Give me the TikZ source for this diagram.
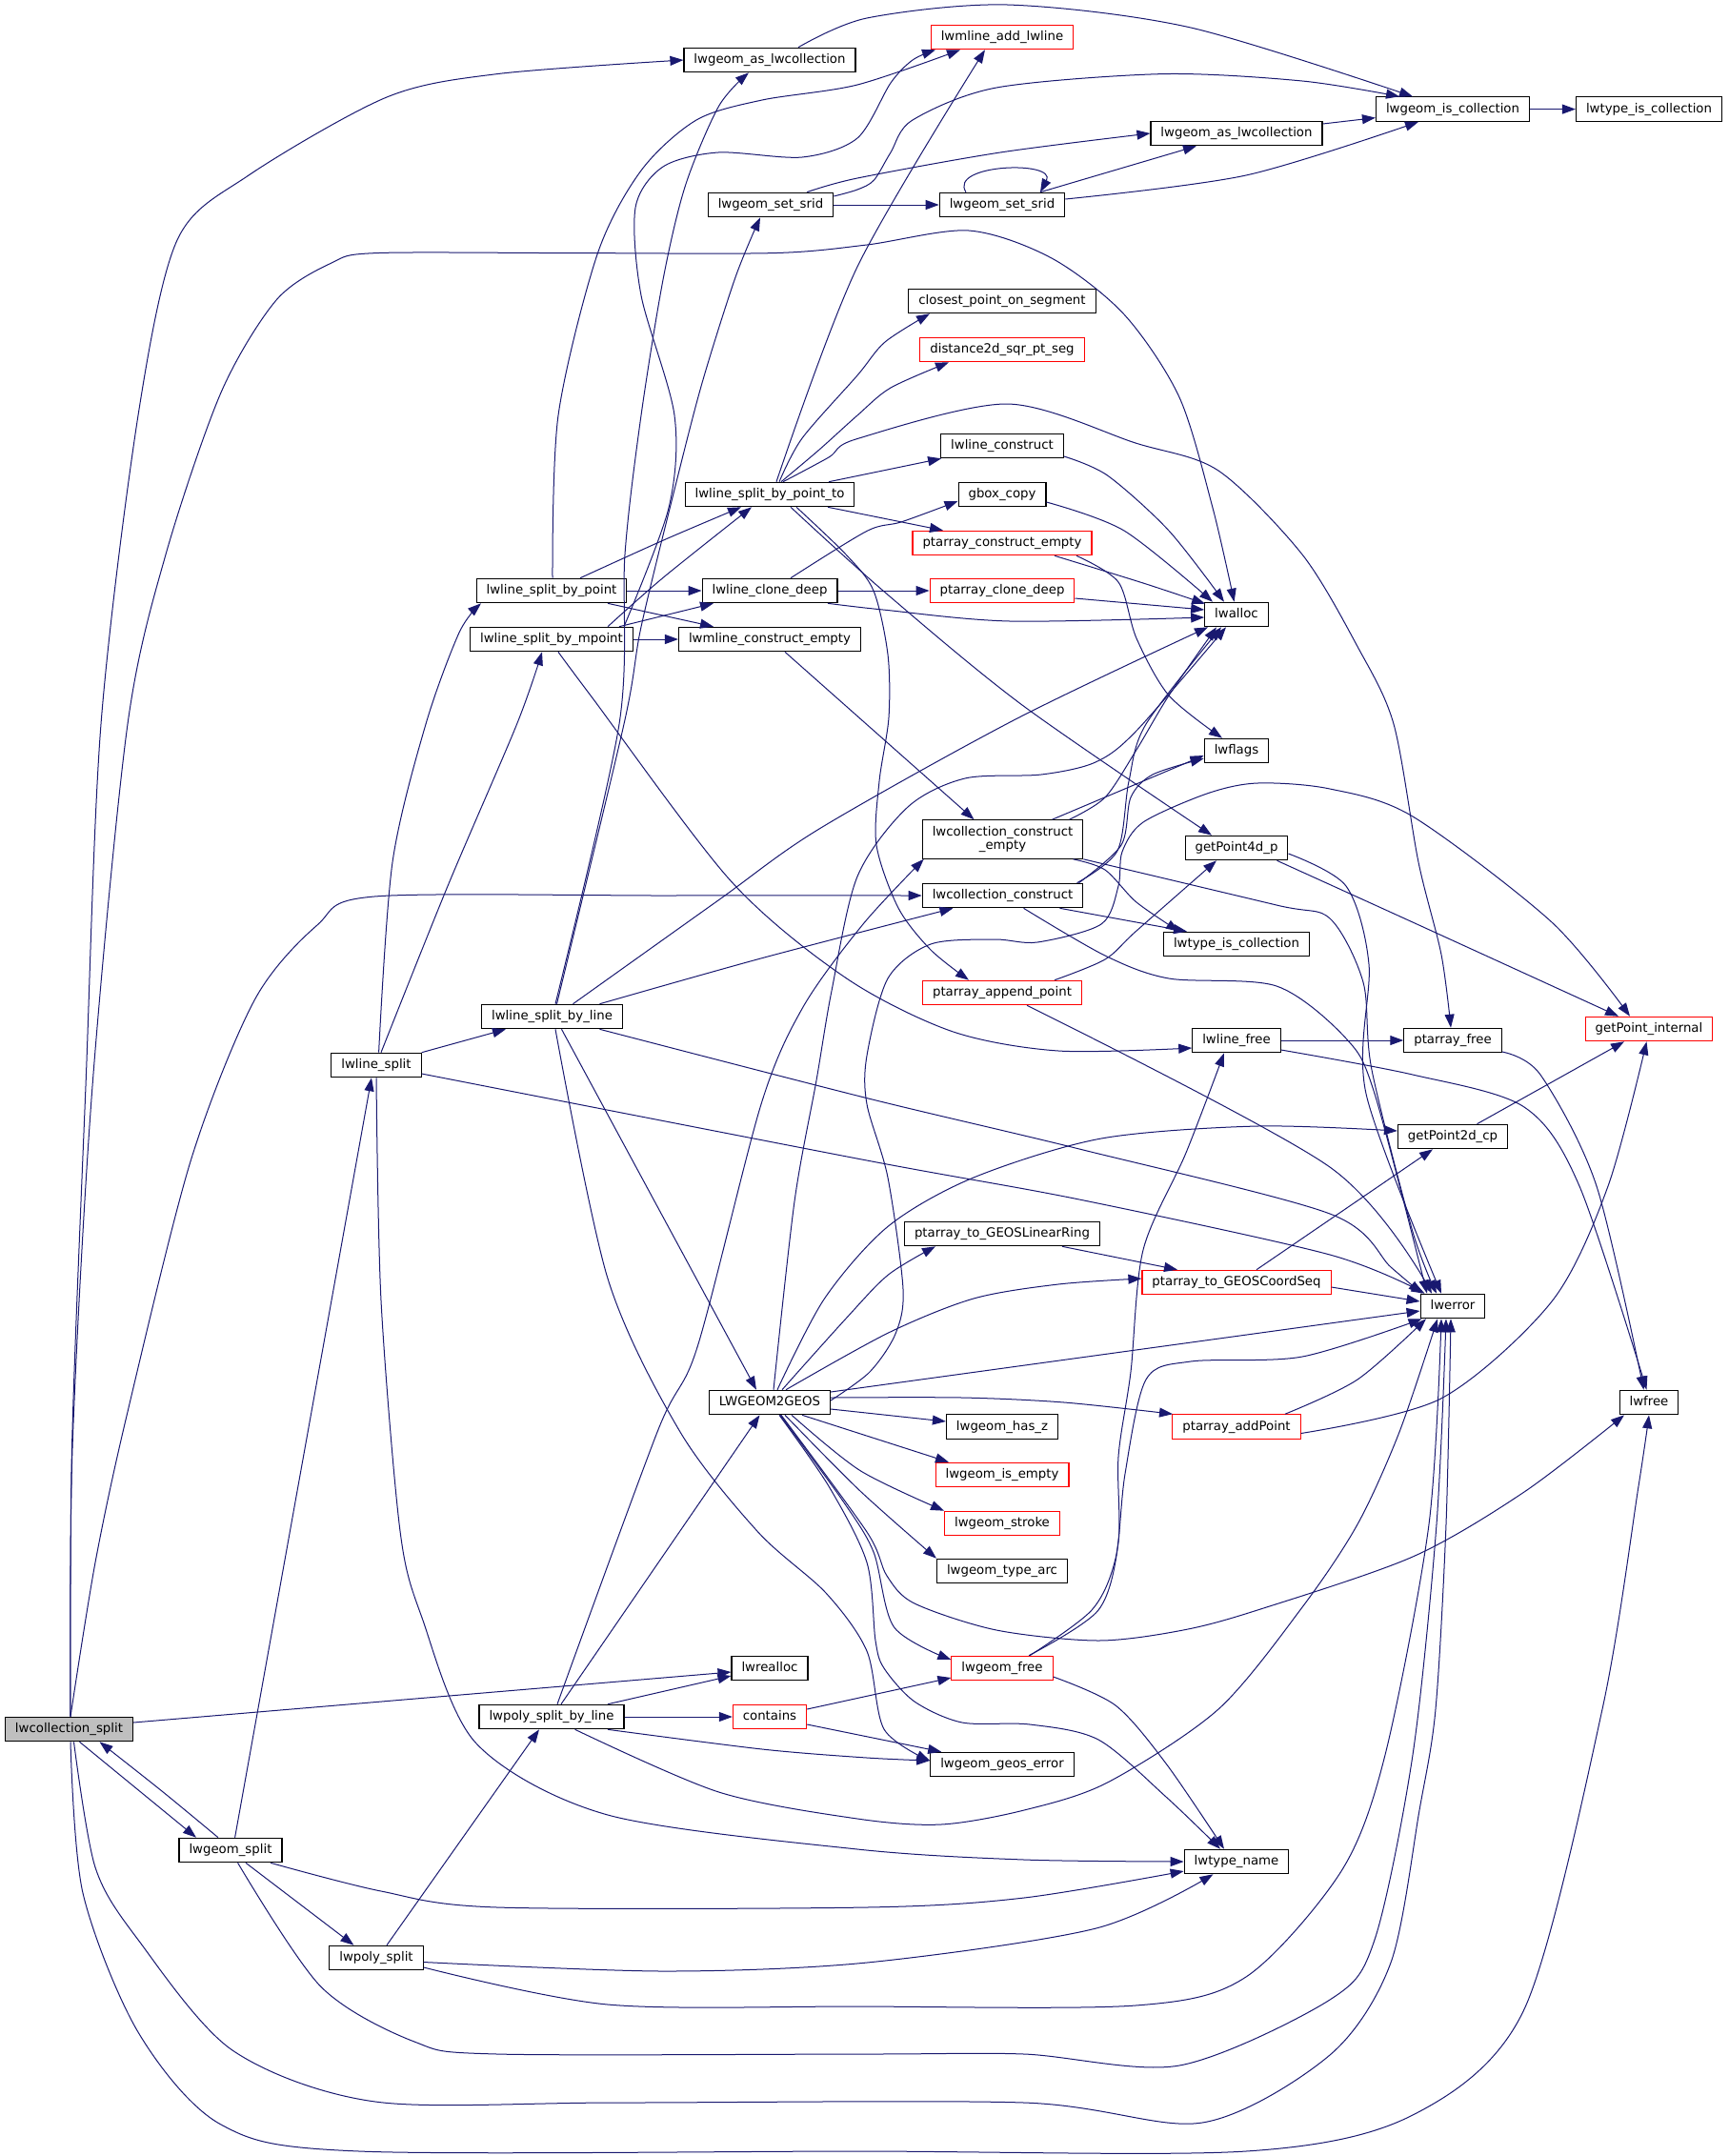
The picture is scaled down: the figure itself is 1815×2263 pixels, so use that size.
\documentclass[tikz,border=0pt]{standalone}
\usepackage{fontspec}
\setmainfont{DejaVu Sans}
\usetikzlibrary{arrows.meta}
\definecolor{edgeblue}{HTML}{191970}
\definecolor{rootfill}{HTML}{BFBFBF}
\tikzset{
  box/.style={draw=black, fill=white, line width=1.1pt, inner xsep=10.5pt, inner ysep=0pt,
    minimum height=25.5pt, text height=10pt, text depth=3pt, font=\fontsize{13.3}{14.5}\selectfont},
  redbox/.style={box, draw=red},
  rootbox/.style={box, fill=rootfill},
  edg/.style={draw=edgeblue, line width=1pt, -{Triangle[length=14pt,width=10pt]}},
}
\begin{document}
\begin{tikzpicture}[x=1pt,y=-1pt]
\useasboundingbox (0,0) rectangle (1815,2263);
% nodes
\node[rootbox] (CSPL) at (72.5,1815) {lwcollection\_split};
\node[box] (A1) at (808,63) {lwgeom\_as\_lwcollection};
\node[redbox] (AL) at (1052,39) {lwmline\_add\_lwline};
\node[box] (IC) at (1525,114.6) {lwgeom\_is\_collection};
\node[box] (TC1) at (1731,114.6) {lwtype\_is\_collection};
\node[box] (A2) at (1298,140) {lwgeom\_as\_lwcollection};
\node[box] (S1) at (809,215) {lwgeom\_set\_srid};
\node[box] (S2) at (1052,215) {lwgeom\_set\_srid};
\node[box] (CP) at (1052,316) {closest\_point\_on\_segment};
\node[redbox] (DS) at (1052,367) {distance2d\_sqr\_pt\_seg};
\node[box] (LC) at (1052,468) {lwline\_construct};
\node[box] (PT) at (808,519) {lwline\_split\_by\_point\_to};
\node[box] (GB) at (1052,519) {gbox\_copy};
\node[redbox] (PCE) at (1052,570) {ptarray\_construct\_empty};
\node[box] (SP) at (579,620) {lwline\_split\_by\_point};
\node[box] (CD) at (808,620) {lwline\_clone\_deep};
\node[redbox] (PCD) at (1052,620) {ptarray\_clone\_deep};
\node[box] (LWALLOC) at (1298,645) {lwalloc};
\node[box] (SM) at (579,671) {lwline\_split\_by\_mpoint};
\node[box] (MCE) at (808,671) {lwmline\_construct\_empty};
\node[box] (LF) at (1298,788) {lwflags};
\node[box, text height=, text depth=, minimum height=40.5pt, align=center] (CCE) at (1052.5,881) {lwcollection\_construct\\\_empty};
\node[box] (G4) at (1298,890) {getPoint4d\_p};
\node[box] (CC) at (1052.5,940) {lwcollection\_construct};
\node[box] (TC2) at (1298,991) {lwtype\_is\_collection};
\node[redbox] (PAP) at (1052,1042) {ptarray\_append\_point};
\node[box] (SL) at (579.5,1067) {lwline\_split\_by\_line};
\node[redbox] (GPI) at (1731,1080) {getPoint\_internal};
\node[box] (LFR) at (1298,1092) {lwline\_free};
\node[box] (PF) at (1525,1092) {ptarray\_free};
\node[box] (LS) at (395,1118) {lwline\_split};
\node[box] (G2) at (1525,1193) {getPoint2d\_cp};
\node[box] (LR) at (1052,1295) {ptarray\_to\_GEOSLinearRing};
\node[redbox] (CS) at (1298,1346) {ptarray\_to\_GEOSCoordSeq};
\node[box] (LE) at (1525,1371) {lwerror};
\node[box] (LG) at (808,1472) {LWGEOM2GEOS};
\node[box] (LFREE) at (1731,1472) {lwfree};
\node[box] (HZ) at (1052,1497.5) {lwgeom\_has\_z};
\node[redbox] (AP) at (1298,1497.5) {ptarray\_addPoint};
\node[redbox] (IE) at (1052,1548) {lwgeom\_is\_empty};
\node[redbox] (ST) at (1052,1599) {lwgeom\_stroke};
\node[box] (TA) at (1052,1649) {lwgeom\_type\_arc};
\node[box] (RA) at (808,1751) {lwrealloc};
\node[redbox] (GF) at (1052,1751) {lwgeom\_free};
\node[box] (PL) at (579,1802) {lwpoly\_split\_by\_line};
\node[redbox] (CT) at (808,1802) {contains};
\node[box] (GE) at (1052,1852) {lwgeom\_geos\_error};
\node[box] (GS) at (242,1942) {lwgeom\_split};
\node[box] (TN) at (1298,1954) {lwtype\_name};
\node[box] (PS) at (395,2055) {lwpoly\_split};

% lwcollection_split
\draw[edg] plot[smooth] coordinates {([xshift=1.5pt]CSPL.north) (75.5,1520) (90,1140) (106,760) (145,436) (186,252) (261,184) (406,102) (522,77.6) (A1.west)};
\draw[edg] plot[smooth] coordinates {([xshift=1.5pt]CSPL.north) (76,1520) (97,1140) (134,760) (174,582) (232,412) (290,315) (348,276) (395,265.6) (600,265.6) (812,265.6) (910,257) (1017,242) (1104,271) (1180,330) (1238,417) (1273,533) ([xshift=-2.4pt]LWALLOC.north)};
\draw[edg] plot[smooth] coordinates {([xshift=1.5pt]CSPL.north) (100,1640) (133,1486) (200,1219) (267,1050) (333,971) (393,941) (700,940) (CC.west)};
\draw[edg] ([yshift=7pt]CSPL.east) -- ([yshift=-4pt]RA.west);
\draw[edg] ([xshift=11pt]CSPL.south) -- ([xshift=-36pt]GS.north);
\draw[edg] plot[smooth] coordinates {([xshift=-13pt]GS.north) (170,1880) ([xshift=32pt]CSPL.south)};
\draw[edg] plot[smooth] coordinates {([xshift=5pt]CSPL.south) (100,1960) (145,2036) (244,2152) (394,2206) (650,2207) (1075,2207) (1262,2228) (1396,2157) (1460,2060) (1490,1900) (1507,1794) (1518,1600) ([xshift=-2pt]LE.south)};
\draw[edg] plot[smooth] coordinates {([xshift=1.5pt]CSPL.south) (87,1987) (145,2133) (232,2230) (377,2258) (900,2258) (1308,2258) (1483,2220) (1600,2109) (1682,1794) (1720,1560) (LFREE.south)};

% lwgeom_split
\draw[edg] ([xshift=4.6pt]GS.north) -- ([xshift=-5pt]LS.south);
\draw[edg] ([xshift=16pt]GS.south) -- ([xshift=-23.6pt]PS.north);
\draw[edg] plot[smooth] coordinates {([xshift=42pt]GS.south) (400,1985) (522,2002) (910,2002) (1075,1992) ([yshift=-10pt]TN.west)};
\draw[edg] plot[smooth] coordinates {([xshift=7.6pt]GS.south) (336.6,2085) (435,2143) (522,2156) (910,2156) (1075,2156) (1238,2168) (1396,2099) (1443,2036) (1483,1842) (1508,1600) ([xshift=-7pt]LE.south)};

% lwline_split
\draw[edg] plot[smooth] coordinates {([xshift=2.6pt]LS.north) (412,905) (447,760) (482,664) ([xshift=-74pt]SP.south)};
\draw[edg] plot[smooth] coordinates {([xshift=5pt]LS.north) (470,930) (542.6,760) ([xshift=-10pt]SM.south)};
\draw[edg] (LS.north east) -- ([xshift=-48.5pt]SL.south);
\draw[edg] plot[smooth] coordinates {([yshift=-9pt]LS.east) (910,1218) (1133,1259) (1396,1317) ([xshift=5pt]LE.north west)};
\draw[edg] plot[smooth] coordinates {(LS.south) (400,1365) (420,1607) (443,1698) (500,1830) (638,1905) (900,1941) (1075,1952) (TN.west)};

% lwpoly_split
\draw[edg] ([xshift=11pt]PS.north) -- ([xshift=-13pt]PL.south);
\draw[edg] plot[smooth] coordinates {([yshift=-4.5pt]PS.east) (696.5,2069) (910,2060) (1150.6,2024) ([xshift=-24.6pt]TN.south)};
\draw[edg] plot[smooth] coordinates {([yshift=-10pt]PS.east) (638,2104) (900,2106) (1192,2105) (1308,2075) (1408,1964) (1454,1842) (1500,1600) ([xshift=-12pt]LE.south)};

% lwpoly_split_by_line
\draw[edg] ([xshift=59pt]PL.north) -- ([yshift=-8pt]RA.west);
\draw[edg] (PL.east) -- (CT.west);
\draw[edg] plot[smooth] coordinates {([xshift=59pt]PL.south) (800,1836) (910,1845) ([yshift=4pt]GE.west)};
\draw[edg] plot[smooth] coordinates {([xshift=24.6pt]PL.south) (754.5,1881) (900,1909) (988,1915) (1075,1900) (1162.5,1871) (1279,1794) (1367,1687) (1425,1600) (1469,1503) ([xshift=-16pt]LE.south)};
\draw[edg] ([xshift=10pt]PL.north) -- ([xshift=-10.5pt]LG.south);
\draw[edg] plot[smooth] coordinates {([xshift=6pt]PL.north) (690,1503) (732,1414) (799,1159) (843,1057) (906,970) ([xshift=2pt]CCE.south west)};

% lwline_split_by_line
\draw[edg] ([xshift=10pt]SL.south) -- ([xshift=-14pt]LG.north);
\draw[edg] plot[smooth] coordinates {([xshift=3.5pt]SL.south) (638,1342) (714,1503) (795.7,1608) (867,1672) (910,1733) (928,1815) ([yshift=4pt]GE.west)};
\draw[edg] plot[smooth] coordinates {([xshift=50pt]SL.south) (910,1152.6) (1133,1206) (1396,1274) (1460,1330) ([xshift=2pt]LE.north west)};
\draw[edg] plot[smooth] coordinates {([xshift=22pt]SL.north) (754,945) (860,870) (1066,755) ([xshift=-30pt]LWALLOC.south)};
\draw[edg] plot[smooth] coordinates {([xshift=50pt]SL.north) (798.6,1006) ([xshift=-52pt]CC.south)};
\draw[edg] plot[smooth] coordinates {([xshift=3.5pt]SL.north) (650,760) (656,582) (673,436) (696.5,291) (719.7,194) (754.5,111.5) ([xshift=-22pt]A1.south)};
\draw[edg] plot[smooth] coordinates {([xshift=5pt]SL.north) (655,760) (673,658) (708,514) (737,402) (772,291) ([xshift=-11pt]S1.south)};

% lwline_split_by_point
\draw[edg] plot[smooth] coordinates {([xshift=30pt]SP.north) (696.5,567) ([xshift=-30pt]PT.south)};
\draw[edg] (SP.east) -- (CD.west);
\draw[edg] ([xshift=59pt]SP.south) -- ([xshift=-59pt]MCE.north);
\draw[edg] plot[smooth] coordinates {([xshift=1pt]SP.north) (586,436) (627,267) (673,179) (731,126) (800,105) (900,89) ([xshift=-44pt]AL.south)};

% lwline_split_by_mpoint
\draw[edg] (SM.east) -- (MCE.west);
\draw[edg] ([xshift=71pt]SM.north) -- ([xshift=-59pt]CD.south);
\draw[edg] plot[smooth] coordinates {([xshift=59pt]SM.north) (696.5,606) ([xshift=-19pt]PT.south)};
\draw[edg] plot[smooth] coordinates {([xshift=76pt]SM.north) (702,533) (708,436) (673,310) (667,218) (696,175) (754,160) (842,165) (900,145) (935,87) (958,63) ([xshift=-70pt]AL.south)};
\draw[edg] plot[smooth] coordinates {([xshift=7pt]SM.south) (620,730) (767,924.5) (888,1026.5) (999.5,1082.6) (1111,1103) ([yshift=-8pt]LFR.west)};

% lwline_split_by_point_to
\draw[edg] plot[smooth] coordinates {([xshift=7pt]PT.north) (900,280) ([xshift=-18pt]AL.south)};
\draw[edg] plot[smooth] coordinates {([xshift=10pt]PT.north) (842,460) (900,394) (929,359) ([xshift=-76pt]CP.south)};
\draw[edg] plot[smooth] coordinates {([xshift=12pt]PT.north) (860,472) (900,436) (935,407) ([xshift=-56pt]DS.south)};
\draw[edg] plot[smooth] coordinates {([xshift=14pt]PT.north) (870,480) (900,460.5) (1057.5,424) (1192,465) (1279,494) (1367,582) (1425,678.6) (1463,760) (1489,905) (1513,1002) ([xshift=-2pt]PF.north)};
\draw[edg] ([xshift=62pt]PT.north) -- ([xshift=1pt]LC.south west);
\draw[edg] ([xshift=61pt]PT.south) -- ([xshift=-62pt]PCE.north);
\draw[edg] plot[smooth] coordinates {([xshift=22pt]PT.south) (927,620) (1073,740) ([xshift=-26pt]G4.north)};
\draw[edg] plot[smooth] coordinates {([xshift=28pt]PT.south) (888,582) (917,620) (932,687) (933,753) (923,820) (920,887) (943,953) (977,997) ([xshift=-35pt]PAP.north)};

% lwline_clone_deep
\draw[edg] plot[smooth] coordinates {([xshift=22pt]CD.north) (910,557.4) (946.7,547.7) ([yshift=-7pt]GB.west)};
\draw[edg] (CD.east) -- (PCD.west);
\draw[edg] plot[smooth] coordinates {([xshift=61pt]CD.south) (927,640) (1060,652) ([yshift=-3pt]LWALLOC.west)};
\draw[edg] ([xshift=16pt]MCE.south) -- ([xshift=-30pt]CCE.north);

% top group
\draw[edg] plot[smooth] coordinates {([xshift=30pt]A1.north) (910,19) (1057.5,5) (1250,29) ([xshift=-42pt]IC.north)};
\draw[edg] plot[smooth] coordinates {([yshift=9pt]S1.east) (900,199) (917.5,189) (935,160) (958,126) (1046,92) (1221,77.6) (1367,85) ([xshift=-56pt]IC.north)};
\draw[edg] plot[smooth] coordinates {([xshift=38pt]S1.north) (900,187) (1050,160) (A2.west)};
\draw[edg] (S1.east) -- (S2.west);
\draw[edg] ([xshift=-38pt]S2.north) .. controls (995,172) and (1110,168) .. ([xshift=40pt]S2.north);
\draw[edg] ([xshift=40pt]S2.north) -- ([xshift=-42pt]A2.south);
\draw[edg] plot[smooth] coordinates {([yshift=6pt]S2.east) (1308,184) ([xshift=-36pt]IC.south)};
\draw[edg] ([yshift=10pt]A2.east) -- ([yshift=-9pt]IC.west);
\draw[edg] (IC.east) -- (TC1.west);

% into lwalloc / lwflags
\draw[edg] plot[smooth] coordinates {([yshift=-8pt]GB.east) (1180,557) ([xshift=-25pt]LWALLOC.north)};
\draw[edg] plot[smooth] coordinates {([yshift=-11pt]LC.east) (1162.5,499) (1227,557) ([xshift=-13pt]LWALLOC.north)};
\draw[edg] plot[smooth] coordinates {([xshift=55pt]PCE.south) (1200,612) ([xshift=1pt,yshift=-2pt]LWALLOC.north west)};
\draw[edg] ([yshift=-8pt]PCD.east) -- ([yshift=5pt]LWALLOC.west);
\draw[edg] plot[smooth] coordinates {([xshift=78pt]PCE.south) (1174,611) (1193,670) (1227,730) ([xshift=-15pt]LF.north)};
\draw[edg] plot[smooth] coordinates {([xshift=70pt]CCE.north) (1160,837) (1193,787) (1227,730) ([xshift=-21pt]LWALLOC.south)};
\draw[edg] plot[smooth] coordinates {([xshift=78pt]CC.north) (1173,893) (1185,820) (1203,760) ([xshift=-16pt]LWALLOC.south)};
\draw[edg] plot[smooth] coordinates {([xshift=4pt]LG.north) (834,1261) (857,1134) (873,1040) (900,920) (953,847) (1013,817) (1093,813) (1150,800) (1193,767) ([xshift=-11pt]LWALLOC.south)};
\draw[edg] ([xshift=52pt]CCE.north) -- ([yshift=-5pt]LF.west);
\draw[edg] plot[smooth] coordinates {([xshift=80pt]CC.north) (1177,887) (1187,837) (1210,813) ([yshift=-8pt]LF.west)};
\draw[edg] plot[smooth] coordinates {([xshift=74pt]CCE.south) (1160,913) (1193,947) ([xshift=-60pt]TC2.north)};
\draw[edg] ([xshift=60pt]CC.south) -- ([xshift=-52pt]TC2.north);
\draw[edg] plot[smooth] coordinates {(CCE.south east) (1340,950) (1396,964) (1431,1031) (1440,1123) (1483,1293) ([xshift=-17pt]LE.north)};
\draw[edg] plot[smooth] coordinates {([xshift=22pt]CC.south) (1160,1003) (1227,1027) (1340,1035) (1413,1090) (1443,1148) ([xshift=-27pt]LE.north)};

% getPoint4d_p, ptarray_append_point
\draw[edg] plot[smooth] coordinates {([xshift=42.5pt]G4.south) (1483,968) ([xshift=-32pt]GPI.north)};
\draw[edg] plot[smooth] coordinates {([yshift=-6pt]G4.east) (1413,930) (1437,1012) (1434,1148) ([xshift=-12pt]LE.north)};
\draw[edg] plot[smooth] coordinates {([xshift=55pt]PAP.north) (1160,1007) (1193,977) ([xshift=-21pt]G4.south)};
\draw[edg] plot[smooth] coordinates {([xshift=26pt]PAP.south) (1396,1225) ([xshift=-22pt]LE.north)};

% lwline_free, ptarray_free
\draw[edg] (LFR.east) -- (PF.west);
\draw[edg] plot[smooth] coordinates {([yshift=-10pt]LFR.east) (1483,1128) (1600,1162) (1658,1245) ([xshift=-2.5pt]LFREE.north)};
\draw[edg] plot[smooth] coordinates {([yshift=-12pt]PF.east) (1617,1128) (1676,1245) ([xshift=-5.5pt]LFREE.north)};

% GEOS helpers
\draw[edg] ([xshift=25.5pt]G2.north) -- ([xshift=-26pt]GPI.south);
\draw[edg] ([xshift=21pt]CS.north) -- ([xshift=-21pt]G2.south);
\draw[edg] ([yshift=-5pt]CS.east) -- ([yshift=5pt]LE.west);
\draw[edg] ([xshift=63pt]LR.south) -- ([xshift=-62pt]CS.north);
\draw[edg] plot[smooth] coordinates {([xshift=51pt]AP.north) (1425,1448) ([xshift=-28pt]LE.south)};
\draw[edg] plot[smooth] coordinates {([yshift=-7pt]AP.east) (1512.6,1468) (1629,1366) (1688,1245) ([xshift=-2.5pt]GPI.south)};

% LWGEOM2GEOS
\draw[edg] plot[smooth] coordinates {([yshift=5pt]LG.east) (1010,1467) (1117,1472) ([xshift=-67pt]AP.north)};
\draw[edg] ([yshift=11pt]LG.east) -- ([yshift=-5pt]LE.west);
\draw[edg] ([yshift=-7pt]LG.east) -- ([yshift=5.5pt]HZ.west);
\draw[edg] ([xshift=34pt]LG.south) -- ([xshift=-56pt]IE.north);
\draw[edg] plot[smooth] coordinates {([xshift=23pt]LG.south) (903,1543.6) (ST.north west)};
\draw[edg] plot[smooth] coordinates {([xshift=16pt]LG.south) (903,1565) (TA.north west)};
\draw[edg] plot[smooth] coordinates {([xshift=11pt]LG.south) (885,1575.7) (917,1629) (938.6,1708) ([yshift=9pt]GF.west)};
\draw[edg] plot[smooth] coordinates {([xshift=10pt]LG.south) (870,1560) (910,1640) (919,1722) (928,1751) (960,1786) (1010,1808) (1081,1810) (1153,1826) (1224,1886) ([xshift=-17pt]TN.north)};
\draw[edg] plot[smooth] coordinates {([xshift=12pt]LG.south) (910,1608) (931,1654) (960,1683) (1046,1711) (1153,1722) (1242,1711) (1320,1690) (1483,1634) (1600,1566) ([xshift=-26pt]LFREE.south)};
\draw[edg] plot[smooth] coordinates {([xshift=17pt]LG.north) (932.5,1399) (1022,1363) (1111,1348) ([yshift=4pt]CS.west)};
\draw[edg] plot[smooth] coordinates {([xshift=13pt]LG.north) (888,1384) (932.5,1338) ([xshift=-70pt]LR.south)};
\draw[edg] plot[smooth] coordinates {([xshift=8pt]LG.north) (865.5,1363) (932.5,1287) (1022,1236) (1156,1195) (1320,1182) ([yshift=6pt]G2.west)};
\draw[edg] plot[smooth] coordinates {([yshift=2pt]LG.east) (913,1440) (940,1400) (948,1353) (932,1236) (910,1159) (910,1108) (932,1027) (977,991) (1044,986) (1089,989) (1156,970) (1174,930) (1178,894) (1200,863) (1267,833) (1320,822) (1396,828) (1483,857) (1629,968) ([xshift=-20pt]GPI.north)};

% lwgeom_free, contains
\draw[edg] plot[smooth] coordinates {([xshift=28pt]GF.north) (1153,1690) (1174,1618.6) (1174,1529) (1187,1440) (1200,1312) (1245,1210) ([xshift=-13pt]LFR.south)};
\draw[edg] plot[smooth] coordinates {([xshift=29pt]GF.north) (1146,1690) (1171,1636) (1181,1547) (1203,1448) (1250,1429) (1367,1424) ([xshift=2pt]LE.south west)};
\draw[edg] plot[smooth] coordinates {([yshift=-9pt]GF.east) (1171,1790) (1224,1851) ([xshift=-13pt]TN.north)};
\draw[edg] ([yshift=8pt]CT.east) -- ([yshift=-10pt]GF.west);
\draw[edg] ([yshift=-8pt]CT.east) -- ([xshift=12pt]GE.north west);
\end{tikzpicture}
\end{document}
